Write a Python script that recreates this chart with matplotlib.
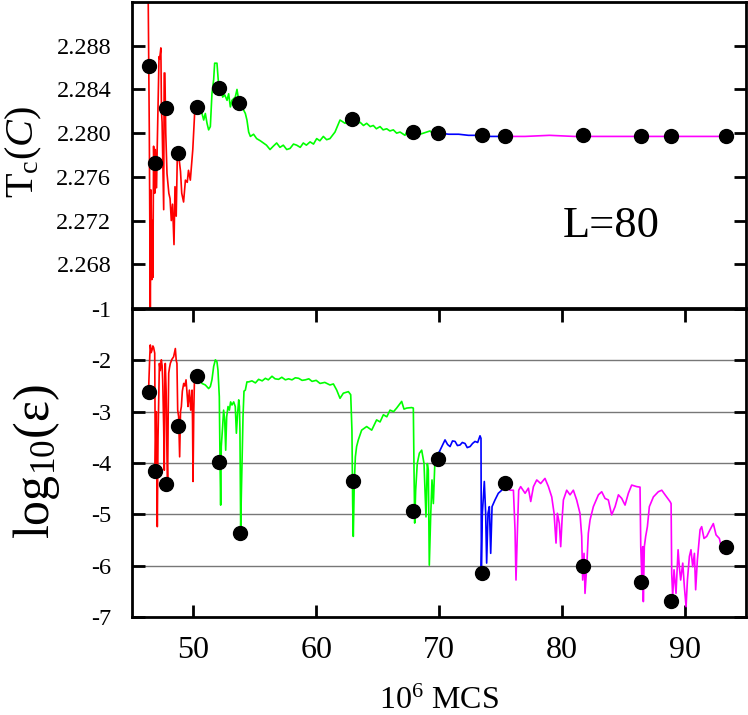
import matplotlib
matplotlib.use("Agg")
import matplotlib.pyplot as plt

plt.rcParams['font.family'] = ['Liberation Serif', 'DejaVu Serif']
plt.rcParams['mathtext.fontset'] = 'custom'
plt.rcParams['mathtext.rm'] = 'Liberation Serif'
plt.rcParams['mathtext.it'] = 'Liberation Serif:italic'
plt.rcParams['axes.unicode_minus'] = False

# ---------------- data: top panel (Tc(C)) ----------------
tc_red_x = [46.30, 46.41, 46.49, 46.55, 46.62, 46.66, 46.70, 46.76, 46.85, 46.90, 47.00, 47.05,
            47.20, 47.25, 47.35, 47.40, 47.45, 47.58, 47.62, 47.68, 47.75, 47.85, 48.00, 48.10,
            48.20, 48.30, 48.42, 48.50, 48.60, 48.70, 48.80, 48.95, 49.05, 49.20, 49.35, 49.50,
            49.60, 49.75, 49.95, 50.10, 50.25]
tc_red_y = [2.2950, 2.2800, 2.2635, 2.2748, 2.2666, 2.2720, 2.2668, 2.2788, 2.2745, 2.2785, 2.2750, 2.2785,
            2.2870, 2.2868, 2.2878, 2.2820, 2.2810, 2.2730, 2.2855, 2.2855, 2.2800, 2.2763, 2.2745, 2.2740,
            2.2720, 2.2735, 2.2698, 2.2751, 2.2724, 2.2785, 2.2780, 2.2765, 2.2745, 2.2737, 2.2757, 2.2755,
            2.2766, 2.2757, 2.2785, 2.2818, 2.2824]
tc_green_x = [50.25, 50.43, 50.70, 50.84, 50.97, 51.11, 51.24, 51.38, 51.51, 51.65, 51.73, 51.92,
              52.00, 52.11, 52.27, 52.38, 52.55, 52.74, 52.87, 53.01, 53.14, 53.41, 53.55, 53.69,
              53.96, 54.23, 54.36, 54.50, 54.64, 54.90, 55.15, 55.45, 55.70, 55.95, 56.24, 56.50,
              56.78, 57.05, 57.32, 57.60, 57.87, 58.15, 58.41, 58.70, 58.95, 59.20, 59.50, 59.78,
              60.04, 60.30, 60.58, 60.85, 61.12, 61.53, 61.94, 62.35, 62.60, 62.89, 63.20, 63.57,
              63.85, 64.11, 64.40, 64.65, 64.90, 65.20, 65.45, 65.74, 66.00, 66.28, 66.55, 66.83,
              67.23, 67.50, 67.85, 68.18, 68.45, 68.73, 69.00, 69.27, 69.55, 69.81, 70.00]
tc_green_y = [2.2824, 2.2821, 2.2818, 2.2812, 2.2818, 2.2809, 2.2803, 2.2806, 2.2836, 2.2849, 2.2864, 2.2864,
              2.2852, 2.2836, 2.2840, 2.2833, 2.2835, 2.2830, 2.2836, 2.2824, 2.2830, 2.2833, 2.2840, 2.2830,
              2.2824, 2.2818, 2.2812, 2.2801, 2.2797, 2.2799, 2.2795, 2.2793, 2.2791, 2.2789, 2.2785, 2.2788,
              2.2791, 2.2787, 2.2789, 2.2785, 2.2786, 2.2790, 2.2789, 2.2787, 2.2791, 2.2789, 2.2792, 2.2790,
              2.2795, 2.2793, 2.2797, 2.2794, 2.2795, 2.2801, 2.2812, 2.2809, 2.2812, 2.2810, 2.2808, 2.2810,
              2.2807, 2.2809, 2.2806, 2.2807, 2.2804, 2.2806, 2.2803, 2.2804, 2.2802, 2.2803, 2.2800, 2.2801,
              2.2798, 2.2804, 2.2802, 2.2801, 2.2799, 2.2800, 2.2801, 2.2802, 2.2799, 2.2800, 2.2800]
tc_blue_x = [70.00, 70.80, 71.60, 72.40, 73.20, 74.00, 74.80, 75.35]
tc_blue_y = [2.2800, 2.2799, 2.2799, 2.2798, 2.2798, 2.2797, 2.2797, 2.2797]
tc_mag_x = [75.35, 77.0, 79.0, 81.0, 83.0, 85.0, 87.0, 89.0, 91.0, 93.30]
tc_mag_y = [2.2797, 2.2797, 2.2798, 2.2797, 2.2797, 2.2797, 2.2797, 2.2797, 2.2797, 2.2797]

tc_pts_x = [46.38, 46.87, 47.77, 48.75, 50.29, 52.08, 53.71, 62.92, 67.88, 69.92,
            73.50, 75.37, 81.73, 86.45, 88.89, 93.37]
tc_pts_y = [2.2861, 2.2773, 2.2823, 2.2782, 2.2824, 2.2841, 2.2828, 2.2813, 2.2801, 2.2800,
            2.2798, 2.2797, 2.2798, 2.2797, 2.2797, 2.2797]

# ---------------- data: bottom panel (log10(eps)) ----------------
le_red_x = [46.36, 46.45, 46.49, 46.56, 46.63, 46.70, 46.76, 46.85, 46.90, 46.98, 47.06, 47.12,
            47.23, 47.30, 47.39, 47.45, 47.50, 47.58, 47.63, 47.67, 47.71, 47.78, 47.85, 47.90,
            47.95, 47.99, 48.05, 48.12, 48.25, 48.39, 48.53, 48.60, 48.66, 48.72, 48.80, 48.88,
            48.95, 49.02, 49.10, 49.21, 49.30, 49.40, 49.50, 49.56, 49.67, 49.78, 49.89, 49.93,
            49.97, 50.03, 50.08, 50.16, 50.24]
le_red_y = [-2.51, -1.90, -1.70, -1.85, -1.80, -1.72, -1.75, -1.86, -4.14, -3.00, -5.24, -3.50,
            -2.06, -2.20, -1.99, -2.10, -2.38, -3.30, -4.14, -2.50, -2.06, -2.60, -3.88, -4.40,
            -3.00, -2.25, -2.15, -2.06, -1.98, -1.93, -1.77, -2.00, -2.06, -2.97, -3.10, -3.88,
            -3.00, -2.90, -2.60, -2.45, -2.50, -2.38, -2.70, -2.90, -2.58, -2.97, -2.58, -3.20,
            -4.36, -3.00, -2.45, -2.30, -2.25]
le_green_x = [50.24, 50.43, 50.70, 50.97, 51.24, 51.38, 51.51, 51.65, 51.79, 51.92, 52.00, 52.11,
              52.17, 52.22, 52.27, 52.38, 52.46, 52.55, 52.63, 52.71, 52.82, 52.93, 53.03, 53.14,
              53.28, 53.41, 53.50, 53.60, 53.69, 53.75, 53.79, 53.85, 53.90, 53.96, 54.04, 54.12,
              54.23, 54.36, 54.50, 54.77, 55.05, 55.31, 55.60, 55.86, 56.10, 56.40, 56.65, 56.94,
              57.20, 57.49, 57.75, 58.03, 58.30, 58.57, 58.85, 59.12, 59.40, 59.66, 60.00, 60.31,
              60.70, 61.12, 61.40, 61.67, 61.94, 62.21, 62.62, 62.81, 62.91, 62.97, 63.02, 63.10,
              63.19, 63.29, 63.43, 63.70, 64.11, 64.52, 64.92, 65.20, 65.47, 65.75, 66.01, 66.30,
              66.55, 66.96, 67.15, 67.37, 67.77, 67.91, 67.96, 68.02, 68.10, 68.23, 68.40, 68.59,
              68.78, 68.94, 69.05, 69.13, 69.21, 69.32, 69.43, 69.54, 69.65, 69.81, 70.03]
le_green_y = [-2.25, -2.32, -2.45, -2.48, -2.55, -2.51, -2.38, -2.12, -1.99, -2.03, -2.19, -2.71,
              -4.01, -4.82, -3.68, -3.29, -2.97, -3.16, -3.75, -3.10, -2.90, -2.97, -2.81, -2.87,
              -2.81, -2.90, -3.42, -3.03, -2.77, -2.90, -3.36, -5.30, -4.66, -4.00, -3.10, -2.60,
              -2.58, -2.42, -2.42, -2.40, -2.44, -2.37, -2.40, -2.35, -2.38, -2.31, -2.36, -2.37,
              -2.33, -2.38, -2.36, -2.38, -2.34, -2.35, -2.39, -2.38, -2.36, -2.41, -2.39, -2.45,
              -2.43, -2.48, -2.46, -2.58, -2.74, -2.64, -2.61, -2.67, -3.36, -4.79, -5.43, -4.40,
              -3.88, -3.68, -3.55, -3.36, -3.29, -3.36, -3.16, -3.20, -3.06, -3.10, -2.97, -3.00,
              -2.93, -2.80, -2.95, -2.93, -2.92, -2.93, -4.01, -5.17, -4.53, -4.01, -3.81, -3.75,
              -4.01, -5.05, -4.01, -4.14, -5.99, -5.05, -4.33, -4.79, -4.07, -3.88, -3.78]
le_blue_x = [70.03, 70.49, 70.70, 70.90, 71.10, 71.31, 71.50, 71.71, 71.90, 72.12, 72.30, 72.53,
             72.73, 72.93, 73.15, 73.34, 73.42, 73.45, 73.53, 73.69, 73.80, 73.88, 73.99, 74.10,
             74.21, 74.32, 74.56, 74.83, 75.11, 75.38]
le_blue_y = [-3.78, -3.55, -3.64, -3.68, -3.57, -3.58, -3.66, -3.65, -3.60, -3.62, -3.70, -3.68,
             -3.62, -3.58, -3.60, -3.47, -3.52, -6.02, -4.98, -4.36, -4.98, -5.95, -4.98, -4.85,
             -5.76, -4.85, -4.72, -4.59, -4.53, -4.40]
le_mag_x = [75.38, 75.51, 75.78, 76.06, 76.19, 76.27, 76.38, 76.49, 76.65, 77.01, 77.28, 77.47,
            77.69, 77.96, 78.28, 78.63, 78.91, 79.18, 79.37, 79.53, 79.64, 79.80, 79.91, 80.02,
            80.13, 80.40, 80.67, 80.94, 81.21, 81.48, 81.62, 81.70, 81.81, 81.89, 82.03, 82.16,
            82.30, 82.57, 82.98, 83.25, 83.52, 83.79, 84.06, 84.34, 84.61, 84.88, 85.15, 85.42,
            85.69, 86.10, 86.37, 86.43, 86.51, 86.59, 86.64, 86.72, 86.83, 86.97, 87.13, 87.46,
            87.86, 88.14, 88.41, 88.81, 88.90, 88.95, 89.03, 89.14, 89.30, 89.47, 89.57, 89.68,
            89.85, 89.98, 90.12, 90.23, 90.39, 90.52, 90.66, 90.80, 90.90, 91.04, 91.26, 91.39,
            91.58, 91.80, 92.07, 92.34, 92.56, 92.83, 93.10, 93.29]
le_mag_y = [-4.40, -4.43, -4.53, -4.53, -5.30, -6.28, -5.37, -4.53, -4.46, -4.59, -4.49, -4.75,
            -4.46, -4.33, -4.40, -4.30, -4.46, -4.66, -4.98, -5.56, -4.98, -5.18, -5.63, -5.11,
            -4.72, -4.53, -4.62, -4.53, -4.72, -4.98, -5.43, -6.28, -5.76, -6.54, -6.02, -5.37,
            -5.11, -4.85, -4.62, -4.56, -4.69, -4.72, -5.01, -4.85, -4.62, -4.69, -4.82, -4.59,
            -4.43, -4.46, -4.47, -5.63, -6.21, -5.63, -6.70, -5.63, -5.43, -5.24, -4.85, -4.66,
            -4.56, -4.53, -4.62, -4.75, -4.79, -6.15, -6.60, -6.08, -6.54, -5.69, -6.02, -6.28,
            -5.95, -6.41, -6.80, -6.28, -5.82, -5.69, -6.02, -5.76, -6.47, -5.89, -5.30, -5.24,
            -5.47, -5.43, -5.30, -5.18, -5.40, -5.47, -5.76, -5.63]

le_pts_x = [46.38, 46.87, 47.77, 48.75, 50.29, 52.08, 53.79, 62.97, 67.88, 69.92,
            73.50, 75.37, 81.73, 86.45, 88.89, 93.37]
le_pts_y = [-2.62, -4.16, -4.41, -3.28, -2.31, -3.98, -5.36, -4.35, -4.94, -3.92,
            -6.14, -4.39, -6.01, -6.32, -6.69, -5.64]

xticks = [50, 60, 70, 80, 90]
tc_ticks = [2.268, 2.272, 2.276, 2.280, 2.284, 2.288]
tc_ticklabels = ['2.268', '2.272', '2.276', '2.280', '2.284', '2.288']
le_ticks = [-7, -6, -5, -4, -3, -2, -1]
grid_levels = [-6, -5, -4, -3, -2]

RED, GREEN, BLUE, MAG = '#ff0000', '#00ff00', '#0000ff', '#ff00ff'

W, H = 748, 715
fig = plt.figure(figsize=(W / 100, H / 100), dpi=100)
left = 132 / W
width = 614 / W
ax1 = fig.add_axes([left, 1 - 308 / H, width, 306 / H])
ax2 = fig.add_axes([left, 1 - 617 / H, width, 308 / H])

for ax in (ax1, ax2):
    for s in ax.spines.values():
        s.set_linewidth(2.0)
    ax.set_xlim(45, 95)

# top panel
lw = 1.2
ax1.plot(tc_red_x, tc_red_y, color=RED, lw=lw)
ax1.plot(tc_green_x, tc_green_y, color=GREEN, lw=lw)
ax1.plot(tc_blue_x, tc_blue_y, color=BLUE, lw=lw)
ax1.plot(tc_mag_x, tc_mag_y, color=MAG, lw=lw)
ax1.plot(tc_pts_x, tc_pts_y, 'o', color='black', ms=10, zorder=5)
ax1.set_ylim(2.264, 2.292)
ax1.set_yticks(tc_ticks)
ax1.set_yticklabels(tc_ticklabels)
ax1.set_xticks([])
ax1.tick_params(axis='y', direction='in', length=9, width=2, left=True, right=True,
                labelsize=17.5, pad=15)
ax1.text(80.1, 2.2705, 'L=80', fontsize=32, ha='left', va='baseline')

# bottom panel
for g in grid_levels:
    ax2.axhline(g, color='#777777', lw=1.0, zorder=0)
ax2.plot(le_red_x, le_red_y, color=RED, lw=lw)
ax2.plot(le_green_x, le_green_y, color=GREEN, lw=lw)
ax2.plot(le_blue_x, le_blue_y, color=BLUE, lw=lw)
ax2.plot(le_mag_x, le_mag_y, color=MAG, lw=lw)
ax2.plot(le_pts_x, le_pts_y, 'o', color='black', ms=10, zorder=5)
ax2.set_ylim(-7, -1)
ax2.set_yticks(le_ticks)
ax2.set_xticks(xticks)
ax2.tick_params(axis='y', direction='in', length=9, width=2, left=True, right=True,
                labelsize=17.5, pad=15)
ax2.tick_params(axis='x', direction='in', length=9, width=2, top=True, bottom=True,
                labelsize=23, pad=14)

# labels
fig.text(24 / W, 1 - 152 / H, r'T$_{\rm c}$($\it{C}$)', fontsize=29, rotation=90,
         ha='center', va='center')
fig.text(36 / W, 1 - 462 / H, r'log$_{\rm 10}$(ε)', fontsize=36, rotation=90,
         ha='center', va='center')
fig.text(439 / W, 1 - 709 / H, r'10$^{\rm 6}$ MCS', fontsize=23, ha='center', va='baseline')

fig.savefig('out.png', dpi=100)
